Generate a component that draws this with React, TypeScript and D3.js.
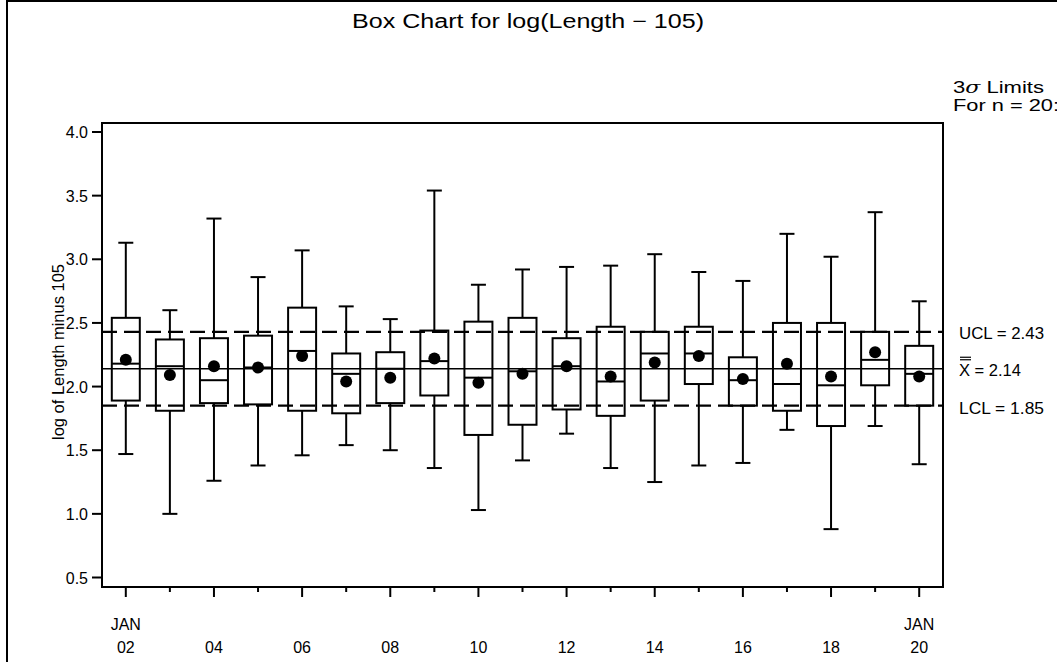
import React from 'react';
import * as d3 from 'd3';

// Subgroup labels (January days) and box statistics
const days = ['02', '03', '04', '05', '06', '07', '08', '09', '10', '11', '12', '13', '14', '15', '16', '17', '18', '19', '20'];
const maxValues = [3.13, 2.60, 3.32, 2.86, 3.07, 2.63, 2.53, 3.54, 2.80, 2.92, 2.94, 2.95, 3.04, 2.90, 2.83, 3.20, 3.02, 3.37, 2.67];
const q3Values = [2.54, 2.37, 2.38, 2.40, 2.62, 2.26, 2.27, 2.44, 2.51, 2.54, 2.38, 2.47, 2.43, 2.47, 2.23, 2.50, 2.50, 2.43, 2.32];
const medianValues = [2.18, 2.16, 2.05, 2.15, 2.28, 2.10, 2.14, 2.20, 2.07, 2.12, 2.16, 2.04, 2.26, 2.26, 2.05, 2.02, 2.01, 2.21, 2.10];
const meanValues = [2.21, 2.09, 2.16, 2.15, 2.24, 2.04, 2.07, 2.22, 2.03, 2.10, 2.16, 2.08, 2.19, 2.24, 2.06, 2.18, 2.08, 2.27, 2.08];
const q1Values = [1.89, 1.81, 1.87, 1.86, 1.81, 1.79, 1.87, 1.93, 1.62, 1.70, 1.82, 1.77, 1.89, 2.02, 1.85, 1.81, 1.69, 2.01, 1.85];
const minValues = [1.47, 1.00, 1.26, 1.38, 1.46, 1.54, 1.50, 1.36, 1.03, 1.42, 1.63, 1.36, 1.25, 1.38, 1.40, 1.66, 0.88, 1.69, 1.39];

const yTicks = [0.5, 1.0, 1.5, 2.0, 2.5, 3.0, 3.5, 4.0];
const ucl = 2.43;
const centerLine = 2.14;
const lcl = 1.85;

const font = '"Liberation Sans", Arial, sans-serif';

const App = () => {
  const left = 102, right = 943, top = 123, bottom = 587;

  const x = d3.scalePoint<string>().domain(days).range([left, right]).padding(0.54);
  const y = d3.scaleLinear().domain([0.5, 4.0]).range([577.5, 132]);

  const boxW = 28;
  const capW = 15;
  const fs = 16;

  return (
    <svg width={1057} height={662} style={{ position: 'absolute', left: 0, top: 0, background: '#fff' }} fontFamily={font}>
      {/* outer frame */}
      <rect x={7} y={1} width={1100} height={700} fill="none" stroke="#000" strokeWidth={2} />

      <text x={528} y={28} textAnchor="middle" fontSize={20} textLength={352} lengthAdjust="spacingAndGlyphs">Box Chart for log(Length − 105)</text>

      {/* control limits */}
      <line x1={left} x2={right} y1={y(centerLine)} y2={y(centerLine)} stroke="#000" strokeWidth={1.6} />
      <line x1={left} x2={right} y1={y(ucl)} y2={y(ucl)} stroke="#000" strokeWidth={2.4} strokeDasharray="15,7" />
      <line x1={left} x2={right} y1={y(lcl)} y2={y(lcl)} stroke="#000" strokeWidth={2.4} strokeDasharray="15,7" />

      {/* boxes */}
      {days.map((d, i) => {
        const cx = x(d) as number;
        return (
          <g key={d} stroke="#000" strokeWidth={2} fill="none">
            <line x1={cx} x2={cx} y1={y(maxValues[i])} y2={y(q3Values[i])} />
            <line x1={cx} x2={cx} y1={y(q1Values[i])} y2={y(minValues[i])} />
            <line x1={cx - capW / 2} x2={cx + capW / 2} y1={y(maxValues[i])} y2={y(maxValues[i])} />
            <line x1={cx - capW / 2} x2={cx + capW / 2} y1={y(minValues[i])} y2={y(minValues[i])} />
            <rect x={cx - boxW / 2} y={y(q3Values[i])} width={boxW} height={y(q1Values[i]) - y(q3Values[i])} />
            <line x1={cx - boxW / 2} x2={cx + boxW / 2} y1={y(medianValues[i])} y2={y(medianValues[i])} />
            <circle cx={cx} cy={y(meanValues[i])} r={6} fill="#000" stroke="none" />
          </g>
        );
      })}

      {/* plot frame */}
      <rect x={left} y={top} width={right - left} height={bottom - top} fill="none" stroke="#000" strokeWidth={2} />

      {/* y axis */}
      {yTicks.map(t => (
        <g key={t}>
          <line x1={left - 10} x2={left} y1={y(t)} y2={y(t)} stroke="#000" strokeWidth={2} />
          <text x={88} y={y(t) + 6} textAnchor="end" fontSize={fs}>{t.toFixed(1)}</text>
        </g>
      ))}
      <text transform={`translate(64,${352}) rotate(-90)`} textAnchor="middle" fontSize={fs} textLength={176} lengthAdjust="spacingAndGlyphs">log of Length minus 105</text>

      {/* x axis */}
      {days.map((d, i) => {
        const cx = x(d) as number;
        const major = i % 2 === 0;
        return (
          <g key={d}>
            <line x1={cx} x2={cx} y1={bottom} y2={bottom + (major ? 10 : 5)} stroke="#000" strokeWidth={2} />
            {major && <text x={cx} y={653} textAnchor="middle" fontSize={fs}>{d}</text>}
            {(i === 0 || i === days.length - 1) && <text x={cx} y={630} textAnchor="middle" fontSize={fs}>JAN</text>}
          </g>
        );
      })}

      {/* limit labels */}
      <text x={953} y={93} fontSize={fs} textLength={91} lengthAdjust="spacingAndGlyphs">3<tspan fontStyle="italic" fontFamily='"DejaVu Serif", serif'>σ</tspan>  Limits</text>
      <text x={953} y={111} fontSize={fs} textLength={106} lengthAdjust="spacingAndGlyphs">For n = 20:</text>
      <text x={959} y={y(ucl) + 7} fontSize={17} textLength={85} lengthAdjust="spacingAndGlyphs">UCL = 2.43</text>
      <line x1={960} x2={971} y1={y(centerLine) - 11.5} y2={y(centerLine) - 11.5} stroke="#000" strokeWidth={1.2} />
      <line x1={960} x2={971} y1={y(centerLine) - 9} y2={y(centerLine) - 9} stroke="#000" strokeWidth={1.2} />
      <text x={959} y={y(centerLine) + 7} fontSize={17} textLength={62} lengthAdjust="spacingAndGlyphs">X = 2.14</text>
      <text x={959} y={y(lcl) + 8} fontSize={17} textLength={85} lengthAdjust="spacingAndGlyphs">LCL = 1.85</text>
    </svg>
  );
};

export default App;
